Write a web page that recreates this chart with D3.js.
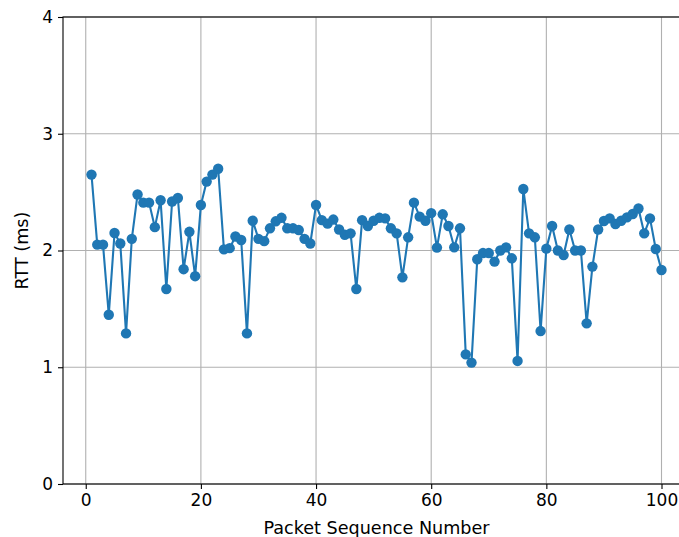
<!DOCTYPE html>
<html><head><meta charset="utf-8">
<script src="https://cdn.jsdelivr.net/npm/d3@7"></script>
<style>body{margin:0;background:#fff;overflow:hidden}svg{display:block}text{font-family:"DejaVu Sans",sans-serif}</style>
</head><body><svg id="c" width="679" height="537"></svg>
<script>
const seq = d3.range(1, 101);
const rtt = [2.65,2.05,2.05,1.45,2.15,2.06,1.29,2.10,2.48,2.41,
2.41,2.20,2.43,1.67,2.42,2.45,1.84,2.16,1.78,2.39,
2.59,2.65,2.70,2.01,2.02,2.12,2.09,1.29,2.255,2.10,
2.08,2.19,2.25,2.28,2.19,2.19,2.175,2.10,2.06,2.39,
2.26,2.23,2.265,2.18,2.135,2.147,1.67,2.26,2.21,2.255,
2.28,2.275,2.19,2.147,1.77,2.113,2.41,2.29,2.255,2.32,
2.025,2.31,2.21,2.027,2.19,1.11,1.04,1.925,1.978,1.978,
1.905,2.0,2.027,1.933,1.054,2.527,2.147,2.113,1.31,2.016,
2.21,2.0,1.961,2.18,2.0,2.0,1.376,1.862,2.18,2.253,
2.275,2.227,2.255,2.284,2.313,2.36,2.147,2.275,2.013,1.833];
const xTicks = [0,20,40,60,80,100];
const yTicks = [0,1,2,3,4];

const L=63, T=17, B=484, R=690;
const FS = 17, LFS = 17.6;
const x = d3.scaleLinear().domain([-3.95,104.95]).range([L,R]);
const y = d3.scaleLinear().domain([0,4]).range([B,T]);
const svg = d3.select("#c");

// grid
svg.append("g").selectAll("line").data(xTicks).join("line")
 .attr("x1",d=>x(d)).attr("x2",d=>x(d)).attr("y1",T).attr("y2",B)
 .attr("stroke","#b0b0b0").attr("stroke-width",1.1);
svg.append("g").selectAll("line").data(yTicks).join("line")
 .attr("y1",d=>y(d)).attr("y2",d=>y(d)).attr("x1",L).attr("x2",R)
 .attr("stroke","#b0b0b0").attr("stroke-width",1.1);

// data
svg.append("path").datum(seq.map((s,i)=>[s,rtt[i]]))
 .attr("d", d3.line().x(d=>x(d[0])).y(d=>y(d[1])))
 .attr("fill","none").attr("stroke","#1f77b4").attr("stroke-width",2.1).attr("stroke-linejoin","round");
svg.append("g").selectAll("circle").data(seq.map((s,i)=>[s,rtt[i]])).join("circle")
 .attr("cx",d=>x(d[0])).attr("cy",d=>y(d[1])).attr("r",5.2).attr("fill","#1f77b4");

// axes
const xa = svg.append("g").attr("transform",`translate(0,${B})`)
 .call(d3.axisBottom(x).tickValues(xTicks).tickSize(5).tickPadding(5).tickFormat(d3.format("d")));
const ya = svg.append("g").attr("transform",`translate(${L},0)`)
 .call(d3.axisLeft(y).tickValues(yTicks).tickSize(5).tickPadding(5).tickFormat(d3.format("d")));
[xa,ya].forEach(a=>{a.select(".domain").remove();
 a.selectAll("text").attr("font-family","DejaVu Sans").attr("font-size",FS).attr("fill","#000");
 a.selectAll("line").attr("stroke","#000").attr("stroke-width",1.1);});

// spines
svg.append("rect").attr("x",L).attr("y",T).attr("width",R-L).attr("height",B-T)
 .attr("fill","none").attr("stroke","#000").attr("stroke-width",1.1);

svg.append("text").attr("x",(L+R)/2).attr("y",534).attr("text-anchor","middle")
 .attr("font-size",LFS).text("Packet Sequence Number");
svg.append("text").attr("transform",`translate(28,${(T+B)/2}) rotate(-90)`).attr("text-anchor","middle")
 .attr("font-size",LFS).text("RTT (ms)");
</script></body></html>
